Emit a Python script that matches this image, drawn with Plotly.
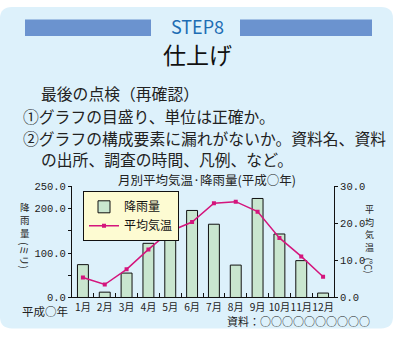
import plotly.graph_objects as go

months = ["1月", "2月", "3月", "4月", "5月", "6月", "7月", "8月", "9月", "10月", "11月", "12月"]
rain = [74, 12, 55, 122, 144, 196, 165, 73, 223, 143, 83, 10]
temp = [5.4, 3.5, 7.6, 13.0, 17.9, 20.4, 25.5, 25.9, 23.2, 16.1, 11.1, 5.6]
rain_ticks = [0, 50, 100, 150, 200, 250]
rain_ticktext = ["0.0", "", "100.0", "", "200.0", "250.0"]
temp_ticks = [0, 10, 20, 30]
temp_ticktext = ["0.0", "10.0", "20.0", "30.0"]

W, H = 397, 346
FONT = "Noto Sans CJK JP"
NUMFONT = "Liberation Mono"

def px(x):
    return x / W

def py(y):
    return 1 - y / H

fig = go.Figure()
fig.add_trace(go.Bar(
    x=months, y=rain, name="降雨量", width=0.5,
    marker=dict(color="#c9e6cf", line=dict(color="#111111", width=1)),
    yaxis="y",
))
fig.add_trace(go.Scatter(
    x=months, y=temp, name="平均気温", mode="lines+markers",
    line=dict(color="#d4157c", width=1.5),
    marker=dict(symbol="square", size=4, color="#d4157c"),
    yaxis="y2",
))

# panel path (rounded rectangle)
x0, y0, x1, y1, r = 0, 2, 393, 335, 12
path = (f"M {px(x0+r)},{py(y0)} L {px(x1-r)},{py(y0)} "
        f"Q {px(x1)},{py(y0)} {px(x1)},{py(y0+r)} L {px(x1)},{py(y1-r)} "
        f"Q {px(x1)},{py(y1)} {px(x1-r)},{py(y1)} L {px(x0+r)},{py(y1)} "
        f"Q {px(x0)},{py(y1)} {px(x0)},{py(y1-r)} L {px(x0)},{py(y0+r)} "
        f"Q {px(x0)},{py(y0)} {px(x0+r)},{py(y0)} Z")
shapes = [
    dict(type="path", path=path, xref="paper", yref="paper",
         fillcolor="#ddf1fb", line=dict(width=0), layer="below"),
    dict(type="rect", xref="paper", yref="paper", x0=px(25), x1=px(151), y0=py(32), y1=py(15),
         fillcolor="#6b93cf", line=dict(width=0), layer="below"),
    dict(type="rect", xref="paper", yref="paper", x0=px(240), x1=px(372), y0=py(32), y1=py(15),
         fillcolor="#6b93cf", line=dict(width=0), layer="below"),
]

ann = []
def text(x, y, s, size, color="#222222", xanchor="left", yanchor="middle", angle=0, family=FONT):
    ann.append(dict(x=px(x), y=py(y), xref="paper", yref="paper", text=s, showarrow=False,
                    xanchor=xanchor, yanchor=yanchor, textangle=angle, borderpad=0,
                    font=dict(family=family, size=size, color=color)))

text(197, 22, "STEP8", 18, "#1d6db4", xanchor="center")
text(197, 51, "仕上げ", 23, "#111111", xanchor="center")
text(40, 92, "最後の点検（再確認）", 15.8)
text(22, 115, "①グラフの目盛り、単位は正確か。", 15.8)
text(22, 138, "②グラフの構成要素に漏れがないか。資料名、資料", 15.8)
text(40, 160, "の出所、調査の時間、凡例、など。", 15.8)
text(207, 181, "月別平均気温·降雨量(平成○年)", 12.5, xanchor="center")
text(69, 317, "平成○年", 11.5, xanchor="right")
text(371, 327, "資料：○○○○○○○○○○", 11, xanchor="right")
# vertical axis titles (stacked characters)
for ch, yy in zip("降雨量", [209, 222.8, 236.6]):
    text(25, yy, ch, 9.5, xanchor="center")
text(25, 259, "(ミリ)", 10, xanchor="center", angle=90)
for ch, yy in zip("平均気温", [212, 225, 238, 251]):
    text(369, yy, ch, 9, xanchor="center")
text(369, 270, "(℃)", 9.5, xanchor="center", angle=90)

fig.update_layout(
    width=W, height=H,
    margin=dict(l=0, r=0, t=0, b=0),
    paper_bgcolor="white",
    plot_bgcolor="#fdfbd2",
    showlegend=True,
    legend=dict(x=px(83), y=py(193), xanchor="left", yanchor="top",
                bgcolor="#fdfbd2", bordercolor="#111111", borderwidth=1,
                font=dict(family=FONT, size=12, color="#111111"),
                tracegroupgap=0, itemwidth=30),
    font=dict(family=FONT, color="#222222"),
    xaxis=dict(domain=[px(72), px(334)], range=[-0.5, 11.5], showline=True, linecolor="#111111",
               linewidth=1, ticks="inside", tickson="boundaries", ticklen=4, tickcolor="#111111",
               showgrid=False, tickangle=0,
               tickfont=dict(family=FONT, size=10.2, color="#222222")),
    yaxis=dict(domain=[py(303), py(188)], range=[0, 250], tickvals=rain_ticks, ticktext=rain_ticktext,
               showline=True, linecolor="#111111", linewidth=1, ticks="outside", ticklen=3,
               tickcolor="#111111", showgrid=False, zeroline=False,
               tickfont=dict(family=NUMFONT, size=10.5, color="#222222")),
    yaxis2=dict(range=[0, 30], overlaying="y", side="right", tickvals=temp_ticks, ticktext=temp_ticktext,
                showline=True, linecolor="#111111", linewidth=1, ticks="outside", ticklen=3,
                tickcolor="#111111", showgrid=False, zeroline=False, anchor="x",
                tickfont=dict(family=NUMFONT, size=10.5, color="#222222")),
    shapes=shapes,
    annotations=ann,
)

fig.write_html("out.html")
